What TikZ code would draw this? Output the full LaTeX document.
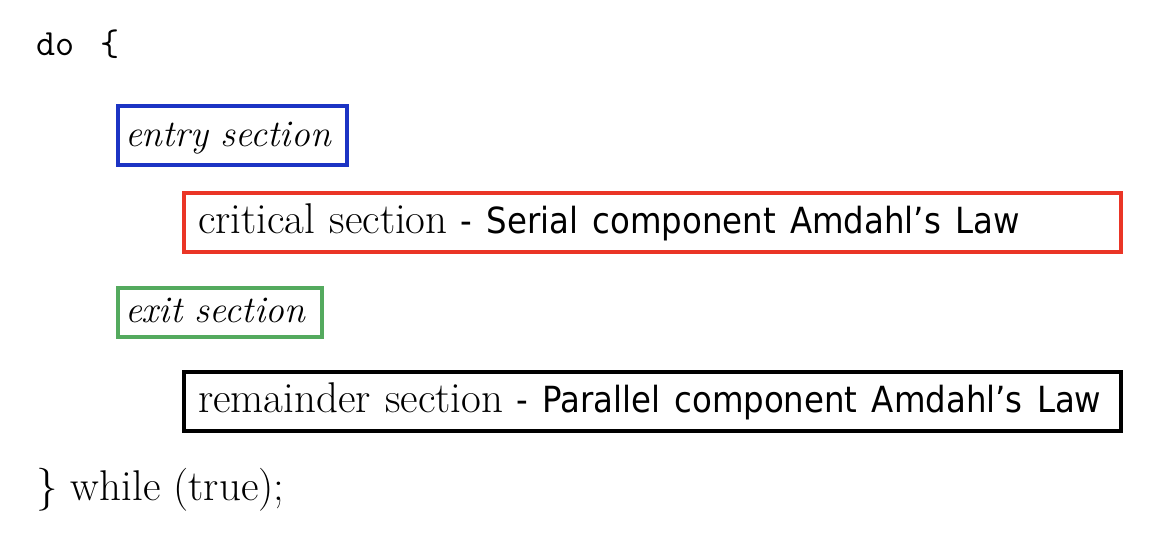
\documentclass[tikz,border=0pt]{standalone}
\usepackage{fontspec}
\newfontfamily\lawfont{DejaVu Sans Condensed}
\definecolor{entryblue}{RGB}{28,52,196}
\definecolor{critred}{RGB}{234,53,38}
\definecolor{exitgreen}{RGB}{84,170,94}
\tikzset{
	sectbox/.style={draw, line width=2pt, anchor=north west, align=left,
		minimum height=29.5pt, text height=15pt, text depth=4pt, inner ysep=0pt},
	codeline/.style={anchor=base west, inner sep=0pt, font=\fontsize{21.5}{24}\selectfont}
}
\begin{document}
\begin{tikzpicture}[x=0.5pt,y=-0.5pt]
				\useasboundingbox (0,0) rectangle (1176,552);
				\node[codeline] (dohead) at (36,55) {\fontsize{18.5}{20}\selectfont\texttt{do\hspace{0.7em}\{}};
				\node[sectbox, entryblue, text=black, inner xsep=3.5pt, text width=107.5pt,
					font=\fontsize{18.8}{22}\selectfont\itshape] (entry) at (116,104) {entry section};
				\node[sectbox, critred, text=black, inner xsep=7pt, text width=454.5pt,
					font=\fontsize{21.5}{24}\selectfont] (critical) at (182,191)
					{critical section\hspace{0.3em}{\lawfont\fontsize{18}{20}\selectfont - Serial component Amdahl’s Law}};
				\node[sectbox, exitgreen, text=black, inner xsep=3.5pt, text width=95pt, minimum height=24.5pt,
					text height=13pt, text depth=3.5pt, font=\fontsize{18.8}{22}\selectfont\itshape] (exit) at (116,286) {exit section};
				\node[sectbox, black, inner xsep=7pt, text width=454.5pt,
					font=\fontsize{21.5}{24}\selectfont] (remainder) at (182,370)
					{remainder section\hspace{0.3em}{\lawfont\fontsize{18}{20}\selectfont - Parallel component Amdahl’s Law}};
				\node[codeline] (whiletail) at (36,500) {\} while (true);};
			\end{tikzpicture}
\end{document}
